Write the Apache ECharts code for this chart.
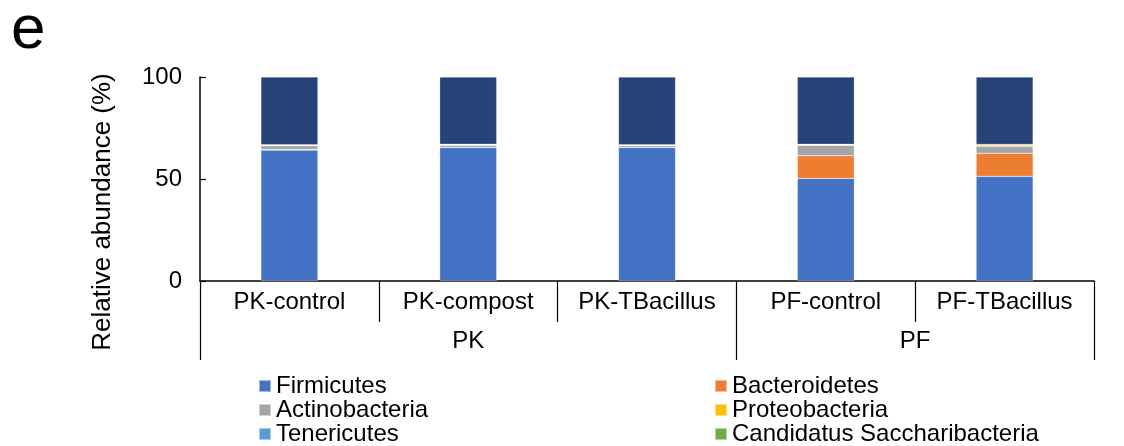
<!DOCTYPE html>
<html>
<head>
<meta charset="utf-8">
<script src="https://cdn.jsdelivr.net/npm/echarts@6/dist/echarts.min.js"></script>
<style>
  html, body { margin: 0; padding: 0; background: #fff; }
  #chart { width: 1124px; height: 446px; }
</style>
</head>
<body>
<div id="chart"></div>
<script>
// 样本
var categories = ['PK-control', 'PK-compost', 'PK-TBacillus', 'PF-control', 'PF-TBacillus'];
var groupNames = ['PK', 'PF'];
var groupSizes = [3, 2];
var yTicks = [0, 50, 100];

// 相对丰度 (%)，自下而上
var firmicutes     = [64.2, 65.4, 65.4, 50.3, 51.3];
var bacteroidetes  = [0.2, 0.1, 0.1, 11.1, 11.3];
var actinobacteria = [1.9, 1.0, 0.8, 5.1, 3.5];
var proteobacteria = [0.3, 0.3, 0.3, 0.3, 0.6];
var tenericutes    = [0.1, 0.1, 0.1, 0.1, 0.1];
var saccharibacteria = [0.1, 0.1, 0.1, 0.1, 0.1];
var others         = [33.2, 33.0, 33.2, 33.0, 33.1];

var FONT = 'Liberation Sans';

// 分组位置
var groupBounds = [0];
var groupCenters = [];
groupSizes.forEach(function (n, i) {
    var start = groupBounds[groupBounds.length - 1];
    groupCenters.push(start + n / 2);
    groupBounds.push(start + n);
});

function bar(name, color, data) {
    return {
        name: name,
        type: 'bar',
        stack: 'total',
        barWidth: 57,
        color: color,
        itemStyle: { borderColor: 'rgba(255,255,255,0.5)', borderWidth: 0.5 },
        data: data
    };
}

var legendText = { fontSize: 24, lineHeight: 24, color: '#000', fontFamily: FONT };

var option = {
    animation: false,
    textStyle: { fontFamily: FONT },
    title: {
        text: 'e',
        left: 6,
        top: -5,
        textStyle: { fontSize: 62, fontWeight: 'normal', color: '#000', fontFamily: FONT }
    },
    grid: { left: 200, right: 30, top: 77, bottom: 165 },
    legend: [{
        orient: 'vertical',
        left: 258,
        top: 374,
        padding: 0,
        itemGap: 0,
        itemWidth: 12,
        itemHeight: 12,
        icon: 'rect',
        textStyle: legendText,
        data: ['Firmicutes', 'Actinobacteria', 'Tenericutes']
    }, {
        orient: 'vertical',
        left: 714,
        top: 374,
        padding: 0,
        itemGap: 0,
        itemWidth: 12,
        itemHeight: 12,
        icon: 'rect',
        textStyle: legendText,
        data: ['Bacteroidetes', 'Proteobacteria', 'Candidatus Saccharibacteria']
    }],
    xAxis: [{
        type: 'category',
        data: categories,
        axisLine: { lineStyle: { color: '#000', width: 1.5 } },
        axisTick: { show: true, interval: 0, length: 41, lineStyle: { color: '#000', width: 1.2 } },
        axisLabel: { interval: 0, margin: 9, fontSize: 24, color: '#000', fontFamily: FONT }
    }, {
        type: 'value',
        position: 'bottom',
        offset: 41,
        min: 0,
        max: categories.length,
        axisLine: { show: false },
        splitLine: { show: false },
        axisTick: { show: true, customValues: groupBounds, length: 38, lineStyle: { color: '#000', width: 1.2 } },
        axisLabel: {
            customValues: groupCenters,
            margin: 7,
            fontSize: 24,
            color: '#000',
            fontFamily: FONT,
            formatter: function (v) {
                var i = groupCenters.indexOf(v);
                return i >= 0 ? groupNames[i] : '';
            }
        }
    }],
    yAxis: {
        type: 'value',
        min: 0,
        max: 100,
        interval: 50,
        axisLine: { show: true, lineStyle: { color: '#000', width: 1.5 } },
        axisTick: { show: true, inside: true, length: 6, lineStyle: { color: '#000', width: 1.2 } },
        axisLabel: {
            margin: 18,
            fontSize: 24,
            color: '#000',
            fontFamily: FONT,
            customValues: yTicks
        },
        splitLine: { show: false }
    },
    graphic: [{
        type: 'text',
        x: 103,
        y: 212,
        rotation: Math.PI / 2,
        style: {
            text: 'Relative abundance (%)',
            fontSize: 26,
            fontFamily: FONT,
            fill: '#000',
            align: 'center',
            verticalAlign: 'middle'
        }
    }],
    series: [
        bar('Firmicutes', '#4472C4', firmicutes),
        bar('Bacteroidetes', '#ED7D31', bacteroidetes),
        bar('Actinobacteria', '#A5A5A5', actinobacteria),
        bar('Proteobacteria', '#FFC000', proteobacteria),
        bar('Tenericutes', '#5B9BD5', tenericutes),
        bar('Candidatus Saccharibacteria', '#70AD47', saccharibacteria),
        bar('Others', '#264478', others)
    ]
};

var myChart = echarts.init(document.getElementById('chart'));
myChart.setOption(option);
window.addEventListener('resize', function () {
    myChart.resize();
});
</script>
</body>
</html>
